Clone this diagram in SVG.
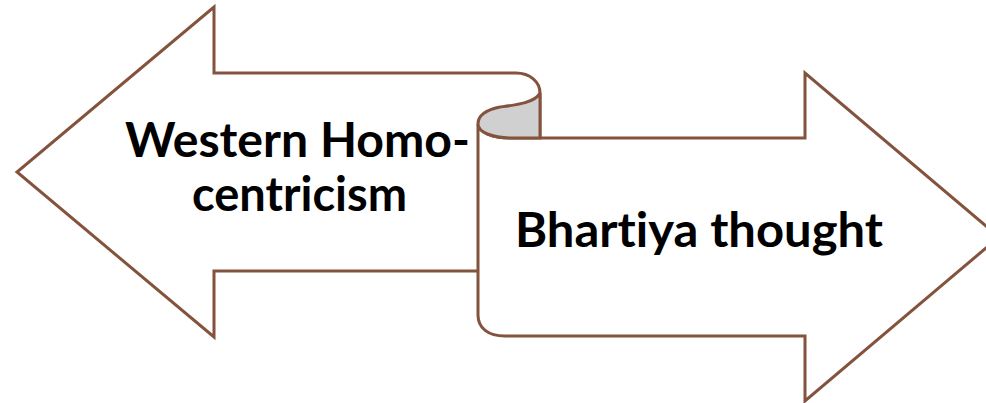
<svg xmlns="http://www.w3.org/2000/svg" width="986" height="403" viewBox="0 0 986 403">
<style>
.shape{fill:#ffffff;stroke:#84533D;stroke-width:3;stroke-linejoin:miter}
.curl{fill:#d0d0d0;stroke:#84533D;stroke-width:3}
.label{font-family:Lato,"Open Sans","Liberation Sans",sans-serif;font-weight:bold;font-size:47px;fill:#000000;font-variant-ligatures:none}
</style>
<rect width="986" height="403" fill="#ffffff"/>
<g id="left-arrow">
<path class="shape" d="M478,271 L214,271 L214,337 L17,172 L214,7 L214,73 L516,73 C530,73 540,82 540,93 L540,138"/>
</g>
<g id="right-arrow">
<path class="shape" d="M478,124 C478,132 492,138 512,138 L805,138 L805,73 L999,237 L805,401 L805,336 L505,336 C488,336 478,328 478,315 Z"/>
<path class="curl" d="M540,93 C535,103 515,105 500,107 C485,110 478,115 478,124 C478,132 492,138 512,138 L540,138 Z"/>
</g>
<g id="left-label">
<text class="label" x="125" y="157" textLength="345" lengthAdjust="spacingAndGlyphs">Western Homo-</text>
<text class="label" x="192" y="211" textLength="215" lengthAdjust="spacingAndGlyphs">centricism</text>
</g>
<g id="right-label">
<text class="label" x="515" y="247" textLength="368" lengthAdjust="spacingAndGlyphs">Bhartiya thought</text>
</g>
</svg>
